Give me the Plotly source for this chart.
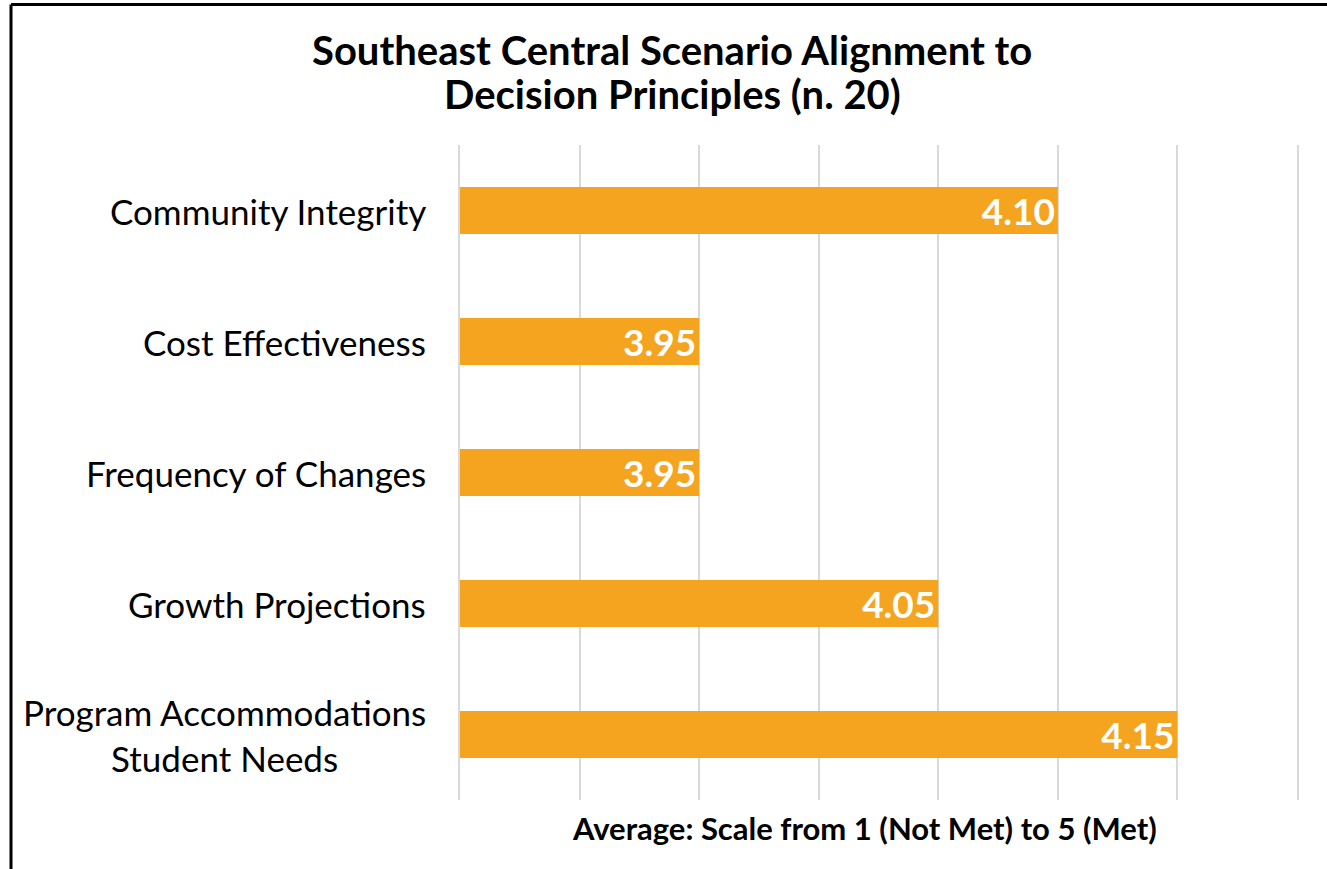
import plotly.graph_objects as go

categories = [
    "Community Integrity",
    "Cost Effectiveness",
    "Frequency of Changes",
    "Growth Projections",
    "Program Accommodations<br>Student Needs",
]
scores = [4.10, 3.95, 3.95, 4.05, 4.15]
score_labels = ["4.10", "3.95", "3.95", "4.05", "4.15"]

title_lines = ["Southeast Central Scenario Alignment to", "Decision Principles (n. 20)"]
axis_title = "Average: Scale from 1 (Not Met) to 5 (Met)"

W, H = 1327, 869
ML, MR, MT, MB = 460, 30, 145, 69
FONT = "Lato, 'Open Sans', sans-serif"
BAR = "#F5A420"
GRID = "#D9D9D9"

pw = W - ML - MR
ph = H - MT - MB


def px_x(px):
    return (px - ML) / pw


def px_y(py):
    return (H - MB - py) / ph


fig = go.Figure(
    go.Bar(
        x=scores,
        y=categories,
        orientation="h",
        marker=dict(color=BAR, line=dict(width=0)),
        text=score_labels,
        textposition="inside",
        insidetextanchor="end",
        constraintext="none",
        textfont=dict(family=FONT, size=37, color="white", weight="bold"),
        cliponaxis=False,
        width=0.36,
    )
)

# category labels, centred line by line to the left of the plot
annotations = [
    dict(
        x=0, xref="paper", y=c, yref="y",
        text=c, showarrow=False, xanchor="right", xshift=-32,
        align="center",
        font=dict(family=FONT, size=35, color="black"),
    )
    for c in categories
]

# two-line chart title
for line, yc in zip(title_lines, [50, 94]):
    annotations.append(dict(
        x=px_x(672), xref="paper", y=px_y(yc), yref="paper",
        text=line, showarrow=False, xanchor="center", yanchor="middle",
        font=dict(family=FONT, size=40, color="black", weight="bold"),
    ))

annotations.append(dict(
    x=px_x(864), xref="paper", y=px_y(828), yref="paper",
    text=axis_title, showarrow=False, xanchor="center", yanchor="middle",
    font=dict(family=FONT, size=31, color="black", weight="bold"),
))

# frame around the chart (top and left edges fall inside the page)
frame_left = px_x(11)
frame_top = px_y(4.5)
shapes = [
    dict(type="line", xref="paper", yref="paper", x0=frame_left, x1=1.2,
         y0=frame_top, y1=frame_top, line=dict(color="black", width=3)),
    dict(type="line", xref="paper", yref="paper", x0=frame_left, x1=frame_left,
         y0=frame_top, y1=-0.3, line=dict(color="black", width=3)),
]

fig.update_layout(
    width=W, height=H,
    margin=dict(l=ML, r=MR, t=MT, b=MB, pad=0),
    paper_bgcolor="white", plot_bgcolor="white",
    showlegend=False,
    xaxis=dict(
        range=[3.85, 4.20], tick0=3.85, dtick=0.05,
        showgrid=True, gridcolor=GRID, gridwidth=2,
        showticklabels=False, zeroline=False, showline=False, ticks="",
        layer="below traces",
    ),
    yaxis=dict(
        autorange="reversed", showticklabels=False, showgrid=False,
        zeroline=False, showline=True, mirror=True,
        linecolor=GRID, linewidth=2, ticks="",
        layer="below traces",
    ),
    bargap=0.64,
    annotations=annotations,
    shapes=shapes,
)

fig.write_html("out.html")
